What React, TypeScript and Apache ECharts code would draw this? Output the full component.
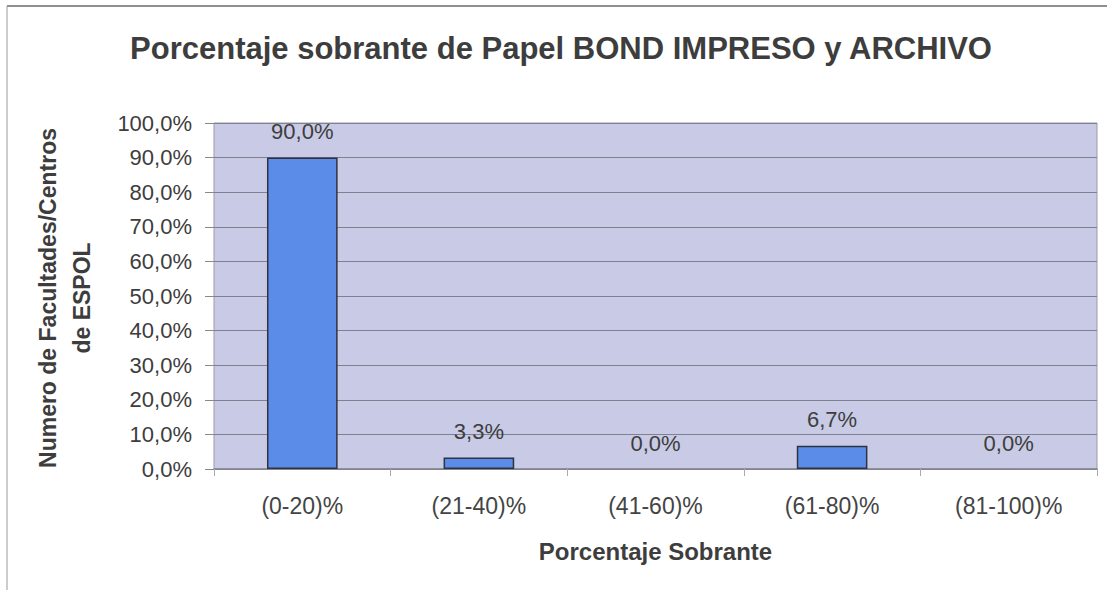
import React, { useEffect, useRef } from "react";
import * as echarts from "echarts";

const categories = ["(0-20)%", "(21-40)%", "(41-60)%", "(61-80)%", "(81-100)%"];
const values = [90.0, 3.3, 0.0, 6.7, 0.0];
const yTicks = [0, 10, 20, 30, 40, 50, 60, 70, 80, 90, 100];

const fmt = (v: number) => v.toFixed(1).replace(".", ",") + "%";
const FONT = "Liberation Sans, Arial, sans-serif";

export default function App() {
  const ref = useRef<HTMLDivElement>(null);
  useEffect(() => {
    if (!ref.current) return;
    const chart = echarts.init(ref.current, null, { renderer: "svg" });
    chart.setOption({
      animation: false,
      backgroundColor: "#ffffff",
      title: {
        text: "Porcentaje sobrante de Papel BOND IMPRESO y ARCHIVO",
        left: 556,
        top: 28,
        textAlign: "center",
        textStyle: { fontFamily: FONT, fontSize: 31, fontWeight: "bold", color: "#3d3d3d" },
      },
      graphic: [
        { type: "line", shape: { x1: 7, y1: 6, x2: 1107, y2: 6 }, style: { stroke: "#6a6a6a", lineWidth: 1.5 } },
        { type: "line", shape: { x1: 7, y1: 6, x2: 7, y2: 590 }, style: { stroke: "#9a9a9a", lineWidth: 1 } },
        {
          type: "text",
          x: 65,
          y: 298,
          rotation: Math.PI / 2,
          style: {
            text: "Numero de Facultades/Centros\nde ESPOL",
            font: "bold 23px " + FONT,
            fill: "#3d3d3d",
            textAlign: "center",
            textVerticalAlign: "middle",
            lineHeight: 34,
          },
        },
      ],
      grid: {
        left: 214,
        right: 10,
        top: 123,
        bottom: 121,
        show: true,
        backgroundColor: "#c8cae6",
        borderColor: "#9a9aa6",
        borderWidth: 1,
      },
      xAxis: {
        type: "category",
        data: categories,
        name: "Porcentaje Sobrante",
        nameLocation: "middle",
        nameGap: 70,
        nameTextStyle: { fontFamily: FONT, fontSize: 24, fontWeight: "bold", color: "#3d3d3d" },
        axisLine: { show: true, lineStyle: { color: "#858590", width: 1.5 } },
        axisTick: { show: true, alignWithLabel: false, length: 7, lineStyle: { color: "#aaa" } },
        axisLabel: { fontFamily: FONT, fontSize: 23, color: "#444", margin: 25 },
      },
      yAxis: {
        type: "value",
        min: 0,
        max: 100,
        interval: 10,
        axisLine: { show: false },
        axisTick: { show: true, length: 9, lineStyle: { color: "#888" } },
        axisLabel: {
          fontFamily: FONT,
          fontSize: 22,
          color: "#3d3d3d",
          margin: 22,
          formatter: (v: number) => (yTicks.includes(v) ? fmt(v) : ""),
        },
        splitLine: { show: true, lineStyle: { color: "#7f8090", width: 1 } },
      },
      series: [
        {
          type: "bar",
          data: values.map((v) => ({
            value: v,
            itemStyle: v === 0 ? { borderWidth: 0, color: "rgba(0,0,0,0)" } : undefined,
          })),
          barWidth: "40%",
          itemStyle: { color: "#5a8ce8", borderColor: "#2f3340", borderWidth: 1.5 },
          label: {
            show: true,
            position: "top",
            distance: 15,
            fontFamily: FONT,
            fontSize: 22,
            color: "#3d3d3d",
            formatter: (p: any) => fmt(p.value),
          },
        },
      ],
    });
    return () => chart.dispose();
  }, []);
  return (
    <div
      ref={ref}
      style={{ position: "absolute", left: 0, top: 0, width: 1107, height: 590 }}
    />
  );
}
